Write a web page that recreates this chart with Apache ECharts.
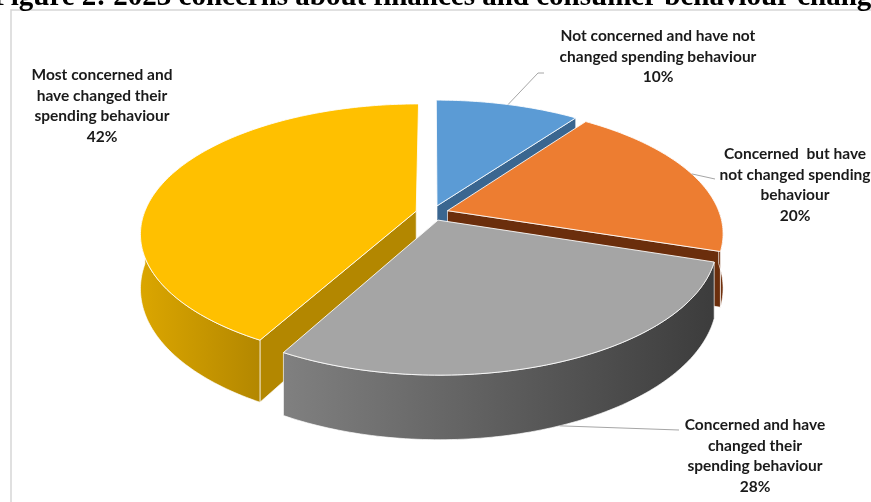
<!DOCTYPE html>
<html>
<head>
<meta charset="utf-8">
<script src="https://cdn.jsdelivr.net/npm/echarts@6/dist/echarts.min.js"></script>
<style>
  html, body { margin: 0; padding: 0; background: #fff; }
  #chart { width: 871px; height: 502px; }
</style>
</head>
<body>
<div id="chart"></div>
<script>
// Survey groups, in clockwise order from 12 o'clock
const categories = [
  'Not concerned and have not\nchanged spending behaviour',
  'Concerned  but have\nnot changed spending\nbehaviour',
  'Concerned and have\nchanged their\nspending behaviour',
  'Most concerned and\nhave changed their\nspending behaviour'
];
const shares = [10, 20, 28, 42];
const titleText = 'Figure 2: 2023 concerns about finances and consumer behaviour change';

// Colours: top face, side face (gradient start / end)
const topColors = ['#5b9bd5', '#ed7d31', '#a5a5a5', '#ffc000'];
const sideColors = [['#41719c', '#3a6690'], ['#7a3510', '#6b2e0c'], ['#808080', '#3c3c3c'], ['#dba600', '#b38700']];

// Tilted, slightly exploded pie with a mild perspective
const VIEW = { cx: 432, cy: 213, rx: 272, ry: 126, depth: 53, persp: 0.17, explode: 0.06 };

// Label anchors (centre of first text line) and leader-line ends
const labelAt = [[658, 36], [795, 154], [755, 425], [102, 75]];
const leaderEnd = [[[538, 73], [544, 73]], [[715, 179]], [[679, 430]], null];

const total = shares.reduce((a, b) => a + b, 0);
let acc = 0;
const spans = shares.map(v => {
  const a0 = acc / total * 360;
  acc += v;
  return [a0, acc / total * 360];
});

function world(theta, r, mid) {
  const t = theta * Math.PI / 180, m = mid * Math.PI / 180;
  return [r * Math.sin(t) + VIEW.explode * Math.sin(m), r * Math.cos(t) + VIEW.explode * Math.cos(m)];
}
function project(theta, r, h, mid) {
  const [wx, wz] = world(theta, r, mid);
  const p = 1 / (1 + VIEW.persp * wz);
  return [VIEW.cx + VIEW.rx * wx * p, VIEW.cy - VIEW.ry * wz * p + VIEW.depth * h * p];
}
function arc(from, to, h, mid) {
  const pts = [];
  const n = Math.max(2, Math.ceil(to - from));
  for (let k = 0; k <= n; k++) pts.push(project(from + (to - from) * k / n, 1, h, mid));
  return pts;
}
function depthOrder(wz) { return Math.round(600 - wz * 200); }

function sideFill(i) {
  return new echarts.graphic.LinearGradient(0, 0, 1, 0, [
    { offset: 0, color: sideColors[i][0] },
    { offset: 1, color: sideColors[i][1] }
  ]);
}

const edge = 'rgba(255,255,255,0.85)';

function renderItem(params, api) {
  const i = params.dataIndex;
  const value = api.value(0);
  const [a0, a1] = spans[i];
  const mid = (a0 + a1) / 2;
  const children = [];

  // Outer rim, front-facing part only
  const s0 = Math.max(a0, 90), s1 = Math.min(a1, 270);
  if (s1 > s0) {
    const pts = arc(s0, s1, 0, mid).concat(arc(s0, s1, 1, mid).reverse());
    const wz = world((s0 + s1) / 2, 1, mid)[1];
    children.push({
      type: 'polygon', shape: { points: pts }, z2: depthOrder(wz),
      style: { fill: sideFill(i), stroke: edge, lineWidth: 0.8 }
    });
  }

  // Radial cut faces
  [[a0, a0 - 90], [a1, a1 + 90]].forEach(([a, normal]) => {
    if (Math.cos(normal * Math.PI / 180) >= -0.01) return;
    const pts = [project(a, 0, 0, mid), project(a, 1, 0, mid), project(a, 1, 1, mid), project(a, 0, 1, mid)];
    const wz = world(a, 0.5, mid)[1];
    children.push({
      type: 'polygon', shape: { points: pts }, z2: depthOrder(wz),
      style: { fill: sideColors[i][1], stroke: edge, lineWidth: 0.8 }
    });
  });

  // Top face
  children.push({
    type: 'polygon', z2: 2000,
    shape: { points: [project(a0, 0, 0, mid)].concat(arc(a0, a1, 0, mid)) },
    style: { fill: topColors[i], stroke: edge, lineWidth: 1 }
  });

  // Leader line
  if (leaderEnd[i]) {
    const onRim = mid > 90 && mid < 270;
    const start = project(mid, 1, onRim ? 1 : 0, mid);
    children.push({
      type: 'polyline', z2: 2100,
      shape: { points: [start].concat(leaderEnd[i]) },
      style: { stroke: '#a6a6a6', lineWidth: 1, fill: null }
    });
  }

  // Data label
  children.push({
    type: 'text', z2: 2200,
    x: labelAt[i][0], y: labelAt[i][1] - 10,
    style: {
      text: categories[i] + '\n' + Math.round(value / total * 100) + '%',
      fill: '#1a1a1a',
      font: 'bold 15.5px Lato, "Open Sans", sans-serif',
      lineHeight: 20.5,
      align: 'center',
      verticalAlign: 'top'
    }
  });

  return { type: 'group', children: children };
}

const chart = echarts.init(document.getElementById('chart'), null, { renderer: 'canvas' });
chart.setOption({
  animation: false,
  backgroundColor: '#fff',
  graphic: [
    {
      type: 'rect', z: -10,
      shape: { x: 11, y: 10, width: 900, height: 520 },
      style: { fill: '#fff', stroke: '#d6d6d6', lineWidth: 1.5 }
    },
    {
      type: 'text', z: 10,
      x: -7, y: -17,
      style: {
        text: titleText,
        font: 'bold 29px "Liberation Serif", "Times New Roman", serif',
        fill: '#000',
        verticalAlign: 'top'
      }
    }
  ],
  series: [{
    type: 'custom',
    coordinateSystem: 'none',
    renderItem: renderItem,
    data: shares.map(v => [v])
  }]
});
</script>
</body>
</html>
